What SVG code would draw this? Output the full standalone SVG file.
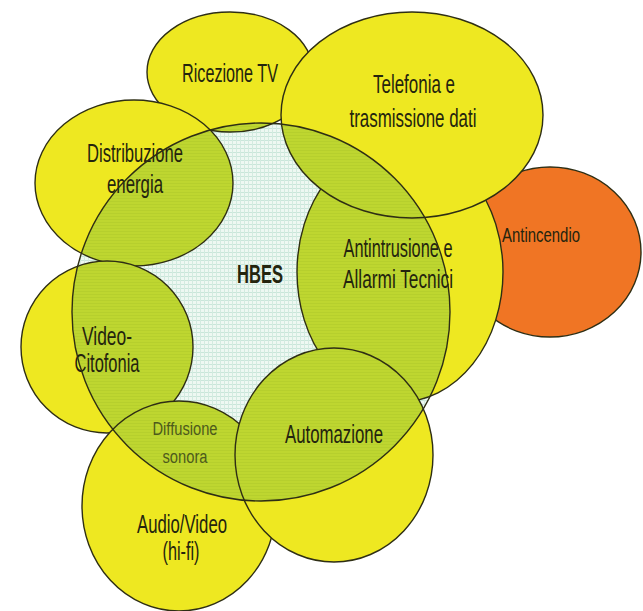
<svg xmlns="http://www.w3.org/2000/svg" xmlns:xlink="http://www.w3.org/1999/xlink" width="643" height="611" viewBox="0 0 643 611">
<style>
  .yel { fill: #eee821; }
  .org { fill: #f07524; }
  .grn { fill: url(#greenStripe); }
  .pale { fill: url(#paleGrid); }
  .ol { fill: none; stroke: #2e2e14; stroke-width: 1.4; }
  text { font-family: "Liberation Sans", Arial, sans-serif; font-size: 25px; fill: #24240e; text-anchor: middle; }
  .bold { font-weight: bold; }
  .small { font-size: 20px; }
  .faint { font-size: 18px; fill: #4d5a1c; }
</style>
<defs>
  <pattern id="paleGrid" width="4" height="4" patternUnits="userSpaceOnUse">
    <rect width="4" height="4" fill="#eef8f2"/>
    <rect width="4" height="1" fill="#c9e6da"/>
    <rect width="1" height="4" fill="#d3ebe0"/>
  </pattern>
  <pattern id="greenStripe" width="4" height="3" patternUnits="userSpaceOnUse">
    <rect width="4" height="3" fill="#bed630"/>
    <rect width="4" height="1" fill="#b6cf2d"/>
  </pattern>
  <circle id="g-hbes" cx="261" cy="312" r="189"/>
  <clipPath id="hbesClip"><use xlink:href="#g-hbes"/></clipPath>
  <ellipse id="g-tv" cx="230" cy="72" rx="83" ry="60"/>
  <ellipse id="g-tel" cx="412" cy="115" rx="131" ry="103"/>
  <ellipse id="g-dist" cx="134" cy="183" rx="99" ry="83"/>
  <ellipse id="g-intr" cx="400" cy="272" rx="103" ry="130"/>
  <ellipse id="g-fire" cx="550" cy="252" rx="91" ry="85"/>
  <ellipse id="g-video" cx="107" cy="347" rx="86" ry="86"/>
  <ellipse id="g-audio" cx="179" cy="506" rx="97" ry="105"/>
  <ellipse id="g-auto" cx="334" cy="455" rx="99" ry="107"/>
</defs>

<rect width="643" height="611" fill="#ffffff"/>

<g id="hbes">
  <use xlink:href="#g-hbes" class="pale"/>
  <text class="bold" x="260" y="283" textLength="46" lengthAdjust="spacingAndGlyphs">HBES</text>
</g>

<g id="antincendio">
  <use xlink:href="#g-fire" class="org"/>
  <use xlink:href="#g-fire" class="ol"/>
  <text class="small" x="541" y="242" textLength="78" lengthAdjust="spacingAndGlyphs">Antincendio</text>
</g>

<g id="ricezione-tv">
  <use xlink:href="#g-tv" class="yel"/>
  <use xlink:href="#g-tv" class="grn" clip-path="url(#hbesClip)"/>
  <use xlink:href="#g-tv" class="ol"/>
  <text x="230" y="82" textLength="96" lengthAdjust="spacingAndGlyphs">Ricezione TV</text>
</g>

<g id="distribuzione-energia">
  <use xlink:href="#g-dist" class="yel"/>
  <use xlink:href="#g-dist" class="grn" clip-path="url(#hbesClip)"/>
  <use xlink:href="#g-dist" class="ol"/>
  <text x="135" y="162" textLength="96" lengthAdjust="spacingAndGlyphs">Distribuzione</text>
  <text x="135" y="193" textLength="56" lengthAdjust="spacingAndGlyphs">energia</text>
</g>

<g id="antintrusione">
  <use xlink:href="#g-intr" class="yel"/>
  <use xlink:href="#g-intr" class="grn" clip-path="url(#hbesClip)"/>
  <use xlink:href="#g-intr" class="ol"/>
  <text x="398" y="257" textLength="109" lengthAdjust="spacingAndGlyphs">Antintrusione e</text>
  <text x="398" y="288" textLength="110" lengthAdjust="spacingAndGlyphs">Allarmi Tecnici</text>
</g>

<g id="telefonia">
  <use xlink:href="#g-tel" class="yel"/>
  <use xlink:href="#g-tel" class="grn" clip-path="url(#hbesClip)"/>
  <use xlink:href="#g-tel" class="ol"/>
  <text x="414" y="93" textLength="82" lengthAdjust="spacingAndGlyphs">Telefonia e</text>
  <text x="413" y="127" textLength="127" lengthAdjust="spacingAndGlyphs">trasmissione dati</text>
</g>

<g id="video-citofonia">
  <use xlink:href="#g-video" class="yel"/>
  <use xlink:href="#g-video" class="grn" clip-path="url(#hbesClip)"/>
  <use xlink:href="#g-video" class="ol"/>
  <text x="107" y="345" textLength="50" lengthAdjust="spacingAndGlyphs">Video-</text>
  <text x="107" y="372" textLength="65" lengthAdjust="spacingAndGlyphs">Citofonia</text>
</g>

<g id="audio-video">
  <use xlink:href="#g-audio" class="yel"/>
  <use xlink:href="#g-audio" class="grn" clip-path="url(#hbesClip)"/>
  <use xlink:href="#g-audio" class="ol"/>
  <text class="faint" x="185" y="435" textLength="65" lengthAdjust="spacingAndGlyphs">Diffusione</text>
  <text class="faint" x="185" y="463" textLength="45" lengthAdjust="spacingAndGlyphs">sonora</text>
  <text x="182" y="533" textLength="90" lengthAdjust="spacingAndGlyphs">Audio/Video</text>
  <text x="181" y="560" textLength="37" lengthAdjust="spacingAndGlyphs">(hi-fi)</text>
</g>

<g id="automazione">
  <use xlink:href="#g-auto" class="yel"/>
  <use xlink:href="#g-auto" class="grn" clip-path="url(#hbesClip)"/>
  <use xlink:href="#g-auto" class="ol"/>
  <text x="334" y="443" textLength="98" lengthAdjust="spacingAndGlyphs">Automazione</text>
</g>

<g id="hbes-border">
  <use xlink:href="#g-hbes" class="ol"/>
</g>
</svg>
